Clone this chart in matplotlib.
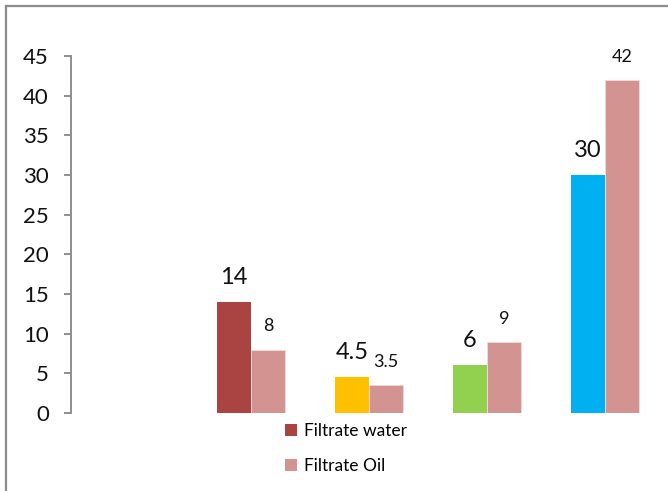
import matplotlib
matplotlib.use("Agg")
import matplotlib.pyplot as plt
from matplotlib.patches import Patch
from matplotlib.lines import Line2D
import numpy as np

plt.rcParams['font.family'] = ['Lato', 'DejaVu Sans']

categories = ["", "A", "B", "C", "D"]
water = [np.nan, 14, 4.5, 6, 30]
oil = [np.nan, 8, 3.5, 9, 42]
water_colors = ["#A94442", "#A94442", "#FFC000", "#92D050", "#00B0F0"]
oil_color = "#D39391"
series_names = ["Filtrate water", "Filtrate Oil"]
yticks = [0, 5, 10, 15, 20, 25, 30, 35, 40, 45]

W, H = 668, 491
fig = plt.figure(figsize=(W / 100, H / 100), dpi=100)
ax = fig.add_axes([71 / W, (H - 413) / H, (664 - 71) / W, (413 - 56) / H])

x = np.arange(len(categories))
bw = 0.287
ax.bar(x - bw / 2, water, width=bw, color=water_colors, linewidth=0)
ax.bar(x + bw / 2, oil, width=bw, color=oil_color, edgecolor="#F2DCDB", linewidth=0.6)

for xi, v in zip(x, water):
    if not np.isnan(v):
        ax.annotate(f"{v:g}", (xi - bw / 2, v), xytext=(0, 13), textcoords="offset points",
                    ha="center", va="baseline", fontsize=17, color="#111111")
for xi, v in zip(x, oil):
    if not np.isnan(v):
        ax.annotate(f"{v:g}", (xi + bw / 2, v), xytext=(0, 13), textcoords="offset points",
                    ha="center", va="baseline", fontsize=13, color="#111111")

ax.set_xlim(-0.525, 4.5)
ax.set_ylim(0, 45)
ax.set_yticks(yticks)
ax.set_xticks([])
for s in ["top", "right", "bottom"]:
    ax.spines[s].set_visible(False)
ax.spines["left"].set_color("#868686")
ax.spines["left"].set_linewidth(1.3)
ax.tick_params(axis="y", length=5, width=1.3, color="#868686", pad=11,
               labelsize=16, labelcolor="#111111")

handles = [Patch(facecolor=water_colors[1], edgecolor="none"),
           Patch(facecolor=oil_color, edgecolor="none")]
fig.legend(handles, series_names, loc="upper left", bbox_to_anchor=(285 / W, 1 - 423 / H),
           frameon=False, fontsize=12.5, handlelength=0.7, handleheight=0.7,
           handletextpad=0.4, labelspacing=1.1, borderpad=0, borderaxespad=0)

# outer frame lines (top and left)
fig.add_artist(Line2D([5.5 / W, 1], [1 - 5.5 / H, 1 - 5.5 / H], transform=fig.transFigure,
                      color="#8C8C8C", linewidth=1.6))
fig.add_artist(Line2D([5.5 / W, 5.5 / W], [0, 1 - 5.5 / H], transform=fig.transFigure,
                      color="#8C8C8C", linewidth=1.6))

fig.savefig("out.png", dpi=100)
